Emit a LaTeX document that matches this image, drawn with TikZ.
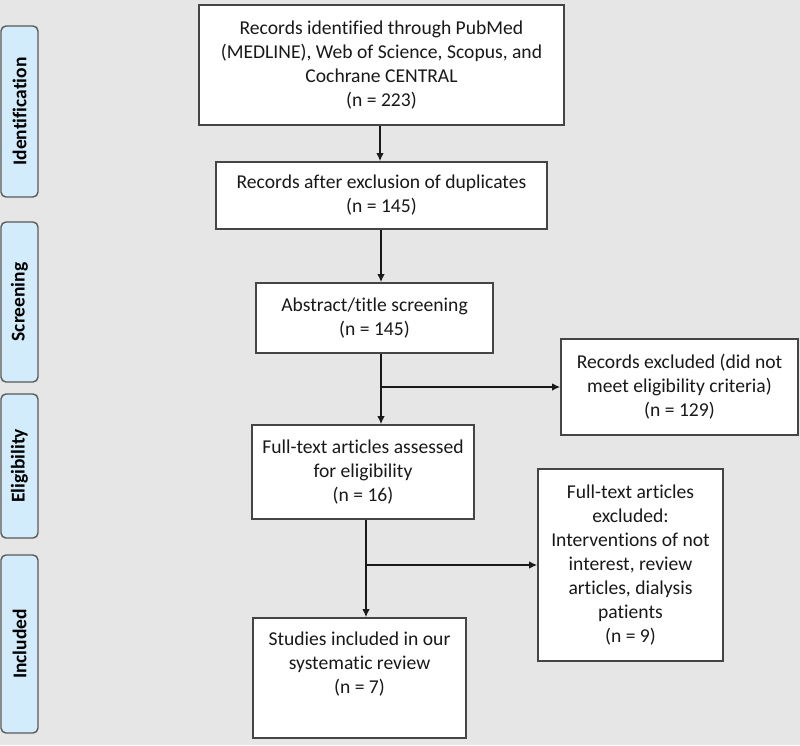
\documentclass[tikz,border=0pt]{standalone}
\usepackage{fontspec}
\setmainfont{Carlito}[Ligatures=NoCommon]
\usetikzlibrary{arrows.meta}
\definecolor{bgc}{HTML}{E6E6E6}
\definecolor{sideblue}{HTML}{D3ECFB}
\definecolor{sideedge}{HTML}{5A5A5A}
\definecolor{boxedge}{HTML}{454545}
\tikzset{
  flowbox/.style={draw=boxedge, line width=1.6pt, fill=white, inner sep=0pt, align=center,
    font=\fontsize{19.6}{24}\selectfont, text=black!90},
  sidebox/.style={draw=sideedge, line width=1.4pt, fill=sideblue, rounded corners=5pt, inner sep=0pt,
    rotate=90, font=\fontsize{19.5}{22}\selectfont\bfseries, text=black},
  arr/.style={line width=1.6pt, draw=black!90, -{Latex[length=8pt,width=7.5pt]}}
}
\begin{document}
\begin{tikzpicture}[x=1pt, y=-1pt]
\fill[bgc] (0,0) rectangle (800,745);
\useasboundingbox (0,0) rectangle (800,745);

% side labels
\node[sidebox, minimum width=171pt, minimum height=37pt] (s1) at (19.5,111.5) {Identification};
\node[sidebox, minimum width=160pt, minimum height=37pt] (s2) at (19.5,302) {Screening};
\node[sidebox, minimum width=144pt, minimum height=37pt] (s3) at (19.5,466) {Eligibility};
\node[sidebox, minimum width=178pt, minimum height=37pt] (s4) at (19.5,644) {Included};

% main boxes
\node[flowbox, minimum width=365pt, minimum height=120pt] (b1) at (381.5,65)
  {Records identified through PubMed\\(MEDLINE), Web of Science, Scopus, and\\Cochrane CENTRAL\\(n = 223)};
\node[flowbox, minimum width=331pt, minimum height=67pt] (b2) at (381.5,195.5)
  {Records after exclusion of duplicates\\(n = 145)};
\node[flowbox, minimum width=237pt, minimum height=70pt] (b3) at (374.5,318)
  {Abstract/title screening\\(n = 145)};
\node[flowbox, minimum width=222pt, minimum height=94pt] (b4) at (363,472)
  {Full-text articles assessed\\for eligibility\\(n = 16)};
\node[flowbox, minimum width=213pt, minimum height=120pt] (b5) at (359.5,678)
  {Studies included in our\\systematic review\\(n = 7)\\\strut};
\node[flowbox, minimum width=237pt, minimum height=96pt] (ex1) at (679.5,387)
  {Records excluded (did not\\meet eligibility criteria)\\(n = 129)};
\node[flowbox, minimum width=185pt, minimum height=192pt] (ex2) at (630.5,565)
  {Full-text articles\\excluded:\\Interventions of not\\interest, review\\articles, dialysis\\patients\\(n = 9)};

% connector columns
\coordinate (c1) at (380,0);
\coordinate (c2) at (381,0);
\coordinate (c3) at (381,0);
\coordinate (c4) at (366,0);

\draw[arr] (b1.south -| c1) -- (b2.north -| c1);
\draw[arr] (b2.south -| c2) -- (b3.north -| c2);
\draw[arr] (b3.south -| c3) -- (b4.north -| c3);
\draw[arr] (ex1.west -| c3) -- (ex1.west);
\draw[arr] (b4.south -| c4) -- (b5.north -| c4);
\draw[arr] (ex2.west -| c4) -- (ex2.west);
\end{tikzpicture}
\end{document}
